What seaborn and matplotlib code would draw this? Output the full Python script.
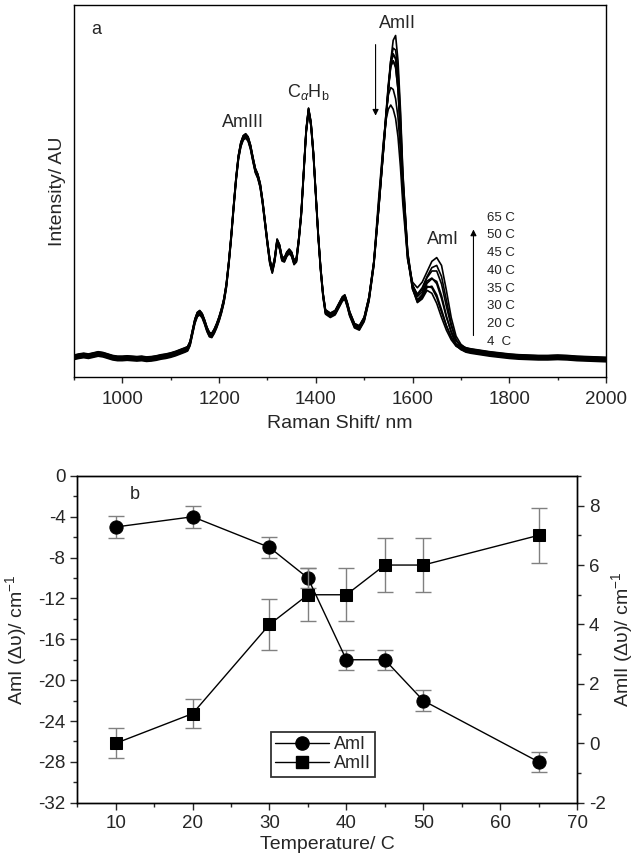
import numpy as np
import pandas as pd
import matplotlib
matplotlib.use('Agg')
import matplotlib.pyplot as plt
import seaborn as sns
from matplotlib.ticker import MultipleLocator
from matplotlib.lines import Line2D

# ---- panel a: Raman spectra (intensity in % of axis height) ----
temps_spec = ['4', '20', '30', '35', '40', '45', '50', '65']

shift_lo = [900, 910, 920, 930, 940, 950, 960, 970, 980, 990, 1000, 1010, 1020, 1030,
            1040, 1050, 1060, 1070, 1080, 1090, 1100, 1110, 1120, 1130, 1135, 1140, 1145,
            1150, 1155, 1160, 1165, 1170, 1175, 1180, 1185, 1190, 1195, 1200, 1205, 1210,
            1215, 1220, 1225, 1230, 1235, 1240, 1245, 1250, 1255, 1260, 1265, 1270, 1275,
            1280, 1285, 1290, 1295, 1300, 1305, 1310, 1315, 1320, 1325, 1330, 1335, 1340,
            1345, 1350, 1355, 1360, 1365, 1370, 1375, 1380, 1385, 1390, 1395, 1400, 1405,
            1410, 1415, 1420, 1430, 1440, 1450, 1455, 1460, 1465, 1470, 1480, 1490, 1500,
            1510, 1520]
int_lo = [5.3, 5.6, 5.8, 5.6, 5.9, 6.2, 6.0, 5.6, 5.2, 5.0, 5.0, 5.1, 5.0, 4.9,
          5.0, 4.8, 4.9, 5.1, 5.4, 5.6, 5.9, 6.3, 6.8, 7.3, 7.6, 9.0, 12.0,
          15.0, 16.8, 17.3, 16.5, 14.8, 12.8, 11.4, 11.2, 12.3, 13.8, 15.6, 17.8, 20.5,
          24.5, 30.5, 37.5, 45.5, 53.0, 59.0, 62.5, 64.3, 64.8, 64.0, 61.8, 58.5, 55.5,
          54.0, 51.5, 47.0, 41.5, 36.0, 31.0, 28.5, 31.5, 36.5, 35.0, 31.8, 31.5, 33.0,
          33.8, 33.0, 30.8, 31.5, 37.0, 44.0, 55.0, 66.0, 71.7, 68.0, 60.0, 49.0, 38.0,
          29.0, 22.0, 17.5, 16.6, 17.3, 19.8, 21.0, 21.5, 19.5, 17.0, 13.8, 13.2, 15.5,
          21.0, 30.5]

shift_mid = [1530, 1540, 1545, 1550, 1555, 1560, 1565, 1570, 1575, 1580, 1590, 1600,
             1610, 1620, 1630, 1640, 1650, 1660, 1670, 1680, 1690, 1700, 1710]
int_mid_4 = [45, 61, 69, 77, 85, 90.5, 91.8, 85, 72, 55, 33, 24, 20.0, 21.0, 23.3, 22.5, 19.8, 16.0, 12.6, 10.0, 8.3, 7.6, 7.3]
int_mid_20 = [45, 61, 69, 77, 84.5, 88.0, 87.5, 82, 70, 54, 33, 24, 20.3, 21.4, 24.0, 23.6, 21.0, 17.0, 13.3, 10.4, 8.5, 7.7, 7.3]
int_mid_30 = [45.5, 61.5, 69.5, 77.5, 84.5, 87.0, 86.0, 80, 68, 53, 33, 24, 20.6, 21.8, 24.5, 24.8, 22.5, 18.5, 14.3, 11.0, 8.8, 7.8, 7.3]
int_mid_35 = [45.5, 61.5, 70, 78, 84.5, 86.3, 85, 79, 67, 52, 33, 24.2, 21.0, 22.3, 25.2, 26.0, 24.5, 20.5, 15.5, 11.7, 9.1, 7.9, 7.3]
int_mid_40 = [46, 62, 70, 78, 84, 85.6, 84, 78, 66, 51, 32.5, 24.3, 21.3, 22.8, 25.8, 27.0, 26.3, 22.5, 17.0, 12.5, 9.4, 8.0, 7.3]
int_mid_45 = [46, 62, 70, 78, 83.5, 84.8, 83, 77, 65, 50, 32.5, 24.5, 21.8, 23.4, 26.5, 28.3, 28.3, 24.8, 18.8, 13.5, 9.8, 8.1, 7.3]
int_mid_50 = [47, 63, 70.5, 76, 78, 77.5, 75, 70, 61, 49, 32, 24.8, 22.5, 24.2, 27.2, 29.6, 30.2, 27.2, 20.8, 14.5, 10.2, 8.2, 7.3]
int_mid_65 = [47.5, 63, 68.5, 71.5, 72.6, 71.5, 69, 64, 56, 46, 31, 25, 23.5, 25.0, 27.8, 30.6, 31.6, 29.5, 22.8, 15.5, 10.5, 8.3, 7.3]
int_mid = [int_mid_4, int_mid_20, int_mid_30, int_mid_35, int_mid_40, int_mid_45, int_mid_50, int_mid_65]

shift_hi = [1720, 1730, 1740, 1750, 1760, 1780, 1800, 1820, 1840, 1860, 1880, 1900,
            1920, 1940, 1960, 1980, 2000]
int_hi = [7.0, 6.8, 6.6, 6.4, 6.2, 5.9, 5.6, 5.4, 5.3, 5.2, 5.2, 5.3, 5.2, 5.0, 4.9, 4.8, 4.7]

# small spread between the overlapping traces
trace_offset = [0.0, 0.4, -0.4, 0.6, -0.6, 0.2, -0.2, 0.5]

# ---- panel b: band shifts vs temperature ----
temperature = [10, 20, 30, 35, 40, 45, 50, 65]
ami_shift = [-5, -4, -7, -10, -18, -18, -22, -28]
ami_err = [1.1, 1.1, 1.05, 1.0, 1.0, 1.0, 1.05, 1.0]
amii_shift = [0, 1, 4, 5, 5, 6, 6, 7]
amii_err = [0.5, 0.5, 0.87, 0.9, 0.9, 0.92, 0.92, 0.93]

sns.set_style('ticks')
plt.rcParams['font.family'] = ['Liberation Sans', 'DejaVu Sans']
plt.rcParams['mathtext.fontset'] = 'custom'
plt.rcParams['mathtext.rm'] = 'Liberation Sans'
plt.rcParams['mathtext.it'] = 'Liberation Sans:italic'
plt.rcParams['axes.unicode_minus'] = False

rows = []
for t, mid, off in zip(temps_spec, int_mid, trace_offset):
    xs = shift_lo + shift_mid + shift_hi
    ys = int_lo + mid + int_hi
    for x, y in zip(xs, ys):
        rows.append({'shift': x, 'intensity': y + off, 'temp': t})
spec = pd.DataFrame(rows)

fig = plt.figure(figsize=(6.35, 8.6), dpi=100)
ax1 = fig.add_axes([0.1165, 0.5616, 0.8378, 0.4326])
ax2 = fig.add_axes([0.1217, 0.0666, 0.787, 0.380])

sns.lineplot(data=spec, x='shift', y='intensity', units='temp', estimator=None,
             sort=False, color='black', lw=1.2, ax=ax1)
ax1.set_xlim(900, 2000)
ax1.set_ylim(0, 100)
ax1.set_yticks([])
ax1.xaxis.set_major_locator(MultipleLocator(200))
ax1.xaxis.set_minor_locator(MultipleLocator(100))
ax1.tick_params(axis='x', which='major', direction='out', length=4, width=1, labelsize=13.5, pad=6)
ax1.tick_params(axis='x', which='minor', direction='out', length=2.5, width=1)
ax1.set_xlabel('Raman Shift/ nm', fontsize=14, labelpad=5)
ax1.set_ylabel('Intensity/ AU', fontsize=14)
ax1.yaxis.set_label_coords(-0.015, 0.5)

ax1.text(947, 93.5, 'a', fontsize=13, ha='center', va='center')
ax1.text(1250, 68.5, 'AmIII', fontsize=13, ha='center', va='center')
ax1.text(1385, 76.5, r'C$_\alpha$H$_\mathrm{b}$', fontsize=13, ha='center', va='center')
ax1.text(1568, 94.9, 'AmII', fontsize=13, ha='center', va='center')
ax1.text(1662, 37, 'AmI', fontsize=13, ha='center', va='center')
ax1.annotate('', xy=(1523.6, 69.5), xytext=(1523.6, 90.1),
             arrowprops=dict(arrowstyle='-|>', color='black', lw=0.8, mutation_scale=9))
ax1.annotate('', xy=(1726, 40.4), xytext=(1726, 10.4),
             arrowprops=dict(arrowstyle='-|>', color='black', lw=0.8, mutation_scale=9))
label_y = [9.5, 14.3, 19.0, 23.7, 28.5, 33.3, 38.1, 42.7]
for t, yy in zip(temps_spec, label_y):
    txt = t + '  C' if t == '4' else t + ' C'
    ax1.text(1753, yy, txt, fontsize=9.5, ha='left', va='center', color='#222222')

# panel b
ax3 = ax2.twinx()
ax2.errorbar(temperature, ami_shift, yerr=ami_err, fmt='none', ecolor='#808080',
             elinewidth=1, capsize=5.5, capthick=1, zorder=1)
sns.lineplot(x=temperature, y=ami_shift, marker='o', markersize=9.5, color='black',
             lw=1, markeredgecolor='black', ax=ax2, zorder=3)
ax3.errorbar(temperature, amii_shift, yerr=amii_err, fmt='none', ecolor='#808080',
             elinewidth=1, capsize=5.5, capthick=1, zorder=1)
sns.lineplot(x=temperature, y=amii_shift, marker='s', markersize=8.5, color='black',
             lw=1, markeredgecolor='black', ax=ax3, zorder=3)

ax2.set_xlim(5, 70)
ax2.set_ylim(-32, 0)
ax3.set_ylim(-2, 9)
ax2.xaxis.set_major_locator(MultipleLocator(10))
ax2.xaxis.set_minor_locator(MultipleLocator(5))
ax2.yaxis.set_major_locator(MultipleLocator(4))
ax2.yaxis.set_minor_locator(MultipleLocator(2))
ax3.yaxis.set_major_locator(MultipleLocator(2))
ax3.yaxis.set_minor_locator(MultipleLocator(1))
for a in (ax2, ax3):
    a.tick_params(which='major', direction='out', length=5, width=1, labelsize=13.5)
    a.tick_params(which='minor', direction='out', length=3, width=1)
ax2.set_xlabel('Temperature/ C', fontsize=14, labelpad=3)
ax2.set_ylabel('AmI (\u0394\u03c5)/ cm$^{-1}$', fontsize=14)
ax3.set_ylabel('AmII (\u0394\u03c5)/ cm$^{-1}$', fontsize=14)
ax2.yaxis.set_label_coords(-0.097, 0.5)
ax3.yaxis.set_label_coords(1.064, 0.5)
ax2.text(12.5, -1.8, 'b', fontsize=13, ha='center', va='center')

for a in (ax1, ax2, ax3):
    for s in a.spines.values():
        s.set_color('black')
        s.set_linewidth(1.0)

handles = [Line2D([], [], color='black', lw=1, marker='o', markersize=9.5),
           Line2D([], [], color='black', lw=1, marker='s', markersize=8.5)]
leg = ax3.legend(handles, ['AmI', 'AmII'], loc='upper left', bbox_to_anchor=(0.387, 0.217),
                 fontsize=13, frameon=True, fancybox=False, handlelength=3.0,
                 borderpad=0.25, labelspacing=0.1, handletextpad=0.25, borderaxespad=0)
leg.get_frame().set_edgecolor('black')
leg.get_frame().set_linewidth(1.3)

fig.savefig('out.png', dpi=100)
